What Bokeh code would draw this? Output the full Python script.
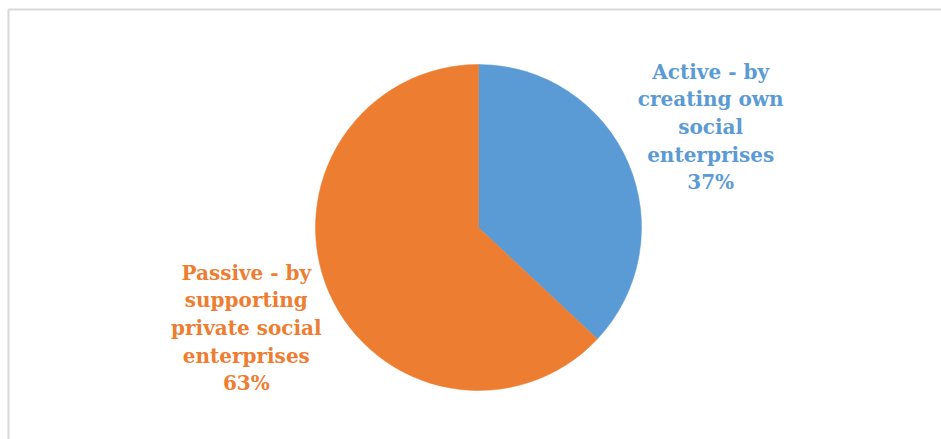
import math
from bokeh.plotting import figure
from bokeh.models import Range1d, ColumnDataSource
from bokeh.core.properties import value
from bokeh.embed import file_html
from bokeh.resources import INLINE

categories = ["Active - by\ncreating own\nsocial\nenterprises", "Passive - by\nsupporting\nprivate social\nenterprises"]
shares = [37, 63]
colors = ["#5b9bd5", "#ed7d31"]

W, H = 941, 439
cx, cy, r = 478, H - 227, 163
label_dist = 253

starts, ends, lx, ly, texts = [], [], [], [], []
a = math.pi / 2
total = sum(shares)
for cat, s in zip(categories, shares):
    sweep = 2 * math.pi * s / total
    starts.append(a - sweep)
    ends.append(a)
    mid = a - sweep / 2
    lx.append(cx + label_dist * math.cos(mid))
    ly.append(cy + label_dist * math.sin(mid))
    texts.append(f"{cat}\n{s}%")
    a -= sweep

src = ColumnDataSource(dict(start=starts, end=ends, color=colors, lx=lx, ly=ly, text=texts,
                            x=[cx] * 2, y=[cy] * 2))

p = figure(width=W, height=H, x_range=Range1d(0, W), y_range=Range1d(0, H),
           output_backend="svg", toolbar_location=None, min_border=0)
p.axis.visible = False
p.grid.visible = False
p.outline_line_color = None
p.background_fill_color = "white"
p.border_fill_color = "white"

# chart frame
p.quad(left=8, right=W + 20, top=H - 9, bottom=-20, fill_alpha=0, line_color="#d9d9d9", line_width=2)

p.wedge(x="x", y="y", radius=r, radius_units="screen", start_angle="start", end_angle="end",
        fill_color="color", line_color="color", line_width=0.5, source=src)

p.text(x="lx", y="ly", text="text", text_color="color", source=src,
       text_font=value("DejaVu Serif"), text_font_style="bold", text_font_size="20px",
       text_align="center", text_baseline="middle", text_line_height=1.15)

open("out.html", "w").write(file_html(p, INLINE))
